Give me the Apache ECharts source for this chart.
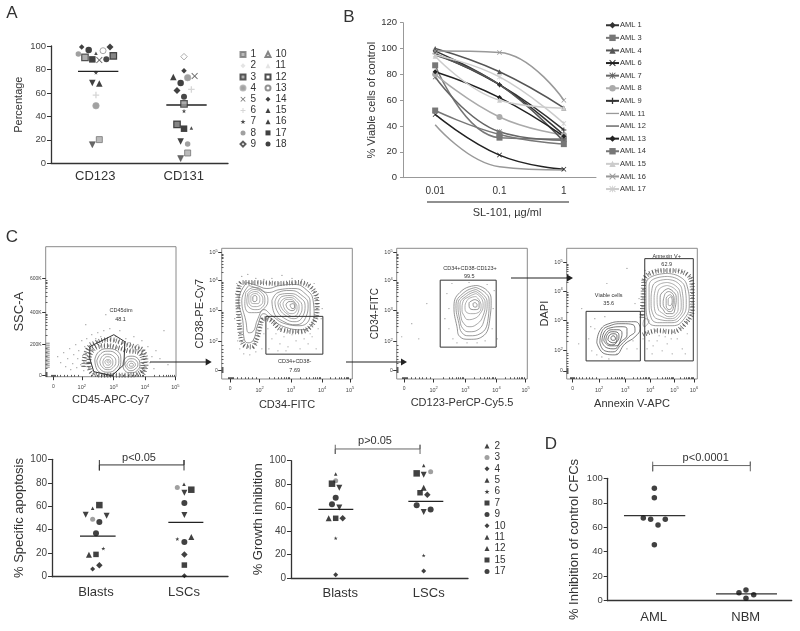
<!DOCTYPE html>
<html><head><meta charset="utf-8">
<style>html,body{margin:0;padding:0;background:#fff}#c{width:800px;height:631px}</style>
<script src="https://cdn.jsdelivr.net/npm/echarts@6/dist/echarts.min.js"></script>
</head><body><div id="c"></div>
<script>
// ---------- Panel A data (index = sample) ----------
const samplesA=['1','2','3','4','5','6','7','8','9','10','11','12','13','14','15','16','17','18'];
const cd123X=[.546,null,.384,.508,.546,.508,.508,.309,null,.467,.508,.704,.588,.347,.467,.546,.467,.426];
const cd123Y=[20.2,null,90.3,49.1,88,58.2,77.3,93.2,null,15.9,93.8,91.5,96,99.1,68.5,68,88.6,96.6];
const cd131X=[1.544,null,1.503,1.544,1.623,1.586,1.503,1.544,1.503,1.465,1.586,1.424,null,1.503,1.465,1.382,1.503,1.465];
const cd131Y=[8.8,null,50.6,73,74.4,63,44.6,16.5,90.9,4,30,33.2,null,79,18.5,73.6,29.5,68.5];
const extraCirclesA=[[.625,88.6],[1.503,56.8]];
const extraDiamondsA=[[.667,99.1],[1.424,62]];
const meanA=[[.305,78.4],[.761,78.4]];
const meanA2=[[1.303,49.7],[1.759,49.7]];
// ---------- Panel B data ----------
const doses=['0.01','0.1','1'];
const amlNames=['AML 1','AML 3','AML 4','AML 6','AML 7','AML 8','AML 9','AML 11','AML 12','AML 13','AML 14','AML 15','AML 16','AML 17'];
const aml1=[98,72,33],aml3=[87,31,30],aml4=[100,82,54],aml6=[49,17.5,6.5],aml7=[78,35.6,29],aml8=[80,47,33],aml9=[96,72,37],
 aml11=[41,8.5,6],aml12=[95,72,28],aml13=[82,62,32],aml14=[52,33.5,26],aml15=[94,60,54],aml16=[98,97,60],aml17=[95,78,42];
const amlValues=[aml1,aml3,aml4,aml6,aml7,aml8,aml9,aml11,aml12,aml13,aml14,aml15,aml16,aml17];
// ---------- Panels apoptosis / growth (index = sample) ----------
const samplesF=['2','3','4','5','6','7','9','10','11','12','15','17'];
const apoBlastX=[.462,.462,.538,.383,.583,.538,.538,.462,.621,.42,.5,.5];
const apoBlastY=[58.2,48.9,9.7,52.8,24,61,46.6,6.5,52,18.8,19,37];
const apoLscX=[1.5,1.424,1.504,1.504,1.424,1.583,1.504,1.504,1.504,1.583,1.504,1.504];
const apoLscY=[78.7,75.9,19,71.6,32.1,74.1,62.8,.9,52.6,33.8,9.9,29.5];
const groBlastX=[.505,.505,.584,.546,.505,.463,.505,.505,.546,.426,.505,.463];
const groBlastY=[88.6,83,50.9,77,34,80.4,68.5,2.8,60.2,50.9,50.9,62.8];
const groLscX=[1.499,1.578,1.54,1.499,1.499,1.42,1.578,1.499,1.499,1.499,1.458,1.42];
const groLscY=[96,90.6,71,88,19.3,89.2,58.5,6,56.2,77,72.7,62];
const meanApo=[[.318,34.5],[.723,34.5]],meanApo2=[[1.322,46.3],[1.72,46.3]];
const meanGro=[[.309,58.5],[.704,58.5]],meanGro2=[[1.326,65.3],[1.721,65.3]];
const bracketApo=[[.538,99.4],[.538,90.5],[.538,95.2],[1.5,95.2],[1.5,99.4],[1.5,90.5]];
const bracketGro=[[.5,113.6],[.5,105.7],[.5,110],[1.458,110],[1.458,113.6],[1.458,105.7]];
// ---------- Panel D data ----------
const cfcAml=[[.507,91.8],[.507,84.2],[.387,67.6],[.467,66.5],[.626,66.5],[.547,61.9],[.507,45.8]];
const cfcNbm=[[1.503,8.7],[1.427,6.5],[1.587,4.9],[1.503,1.9]];
const meanCfc=[[.177,69.5],[.843,69.5]],meanCfc2=[[1.177,5.5],[1.84,5.5]];
const bracketCfc=[[.489,113.6],[.489,105.7],[.489,110.4],[1.55,110.4],[1.55,113.6],[1.55,105.7]];
// ---------- Panel C: gates, contours, dots on a 0-130 channel scale ----------
const flow1Gate=[[44,30],[68,42],[79,35],[78,12],[66,1],[48,5],[44,18],[44,30]];
const flow1Rings=[
[[49,17],[53,25],[62,28],[71,26],[75,17],[73,8],[63,2.5],[52,6]],
[[51,16],[55,23],[62,25.5],[70,23],[73,16],[70,8],[62,4.5],[54,8]],
[[54,15],[57,21],[62,22.5],[68,20],[70,15],[67,9],[62,7],[56,10]],
[[57,15],[59,19],[62,20],[66,18],[67,14],[65,10],[61,9],[58,11]],
[[59,15],[61,17],[63,17],[65,15],[64,12],[62,11.5],[60,12.5]],
[[61,15],[62,16],[63.5,15],[62.5,13.5]],
[[77,12],[79,18],[85,20.5],[91,19],[94,12],[91,6],[85,4],[79,6]],
[[79,12],[81,16],[85,18],[90,16.5],[92,12],[89,7.5],[85,6],[81,8]],
[[81,12],[83,15],[85,15.5],[88,14.5],[89.5,12],[87,9],[85,8.5],[82,9.5]],
[[83.5,12],[85,13.5],[87,13],[87.5,11.5],[86,10.5],[84,10.5]]];
const flow1Halo=[[[43,14],[45,24],[52,30],[62,31],[72,29],[82,26],[93,24],[97,15],[94,4],[80,1.5],[60,1.5],[46,4],[43,14]],
 [[38,10],[41,26],[50,34],[64,37],[76,34],[88,30],[97,26],[100,12],[97,3]]];
const flow1Stripe=[[2,34],[2,9]];
const flow1Dots=[[12,20],[15,14],[18,24],[20,10],[22,18],[24,28],[25,7],[27,13],[28,22],[30,32],[31,9],[32,18],[33,26],[35,12],[36,36],[37,21],[38,6],[39,30],[40,16],[41,38],[42,24],[43,9],[44,34],[46,42],[47,3],[50,38],[52,44],[55,40],[58,46],[64,48],[70,40],[74,46],[80,38],[84,34],[88,40],[92,32],[96,36],[100,24],[102,30],[104,14],[106,20],[108,8],[110,26],[100,8],[114,18],[118,46],[122,12],[60,62],[40,52]];
const flow2Gate=[[44,62.3],[100.7,62.3],[100.7,24.7],[44,24.7],[44,62.3]];
const flow2Rings=[
[[25,96],[35,93],[45,90],[58,93],[72,94],[84,89],[91,78],[92,63],[80,49],[62,52],[48,61],[42,65],[36,54],[31,38],[26,36],[22,42],[21,58],[17,78],[25,96]],
[[27,93],[36,90],[46,86],[58,89],[72,90],[83,85],[88,76],[88,64],[78,53],[63,55],[50,63],[42,69],[36,60],[31,47],[27,46],[24,58],[20,78],[27,93]],
[[24,86],[32,91],[42,87],[46,78],[42,70],[35,66],[28,66],[23,75]],
[[26,85],[32,89],[40,86],[43,78],[40,71],[34,69],[29,70],[25,77]],
[[27,84],[33,87],[39,84],[41,78],[38,73],[33,72],[29,73],[27,78]],
[[29,83],[33,85],[37,83],[38,79],[36,75],[32,75],[29,77]],
[[31,82],[33,83],[35,81],[35,79],[33,77],[31,78]],
[[50,78],[56,86],[68,88],[80,83],[86,74],[84,62],[74,54],[62,57],[52,66]],
[[53,77],[58,84],[68,85],[78,81],[83,73],[81,63],[73,57],[63,60],[55,68]],
[[56,76],[60,82],[68,83],[76,79],[80,72],[78,64],[72,60],[64,63],[58,69]],
[[58,75],[62,80],[68,81],[74,78],[77,72],[76,66],[71,62],[65,65],[60,70]],
[[61,75],[64,79],[69,79],[73,76],[75,71],[73,66],[69,65],[65,67],[62,71]],
[[64,74],[67,77],[70,77],[73,74],[73,70],[70,68],[67,69],[65,71]],
[[68,74],[71,75],[72.5,72],[71,70],[69,71]]];
const flow2Halo=[[[16,78],[20,96],[33,96],[58,95],[75,96],[90,90],[95,72],[92,57],[78,47],[60,49],[48,59],[42,60],[35,40],[30,32],[22,34],[18,50],[16,78]]];
const flow2Dots=[[15,70],[14,85],[13,60],[16,50],[18,45],[15,95],[20,102],[26,104],[34,100],[42,99],[50,100],[60,103],[70,100],[80,99],[92,95],[96,85],[100,70],[99,60],[96,50],[88,45],[16,38],[18,30],[22,25],[28,24],[34,27],[40,30],[42,45],[46,50],[50,40],[54,45],[58,35],[62,42],[66,32],[70,44],[74,38],[78,30],[82,40],[86,35],[90,42],[94,30],[47,30],[56,28],[64,28]];
const flow3Gate=[[43.3,98.3],[99,98.3],[99,31.7],[43.3,31.7],[43.3,98.3]];
const flow3Rings=[
[[80,93],[90,88],[94,78],[93,62],[85,42],[72,39.5],[63,42],[60,52],[57,72],[65,88]],
[[79,91],[89,85],[92,77],[91,60],[83,45],[72,43],[65,46],[62,55],[59,73],[67,86]],
[[79,89],[87,83],[90,76],[88,62],[81,49],[72,47],[66,50],[63,58],[61,74],[68,84]],
[[79,87],[86,81],[88,75],[86,63],[79,54],[72,52],[67,55],[64,62],[63,74],[70,83]],
[[79,85],[85,79],[86,73],[83,65],[77,60],[71,59],[67,63],[65,69],[66,77],[72,82]],
[[79,82],[83,77],[84,72],[81,66],[75,65],[70,66],[68,71],[70,78],[74,81]],
[[78,79],[82,76],[82,71],[78,69],[73,70],[72,75],[75,78]],
[[78,76],[80,74],[79,71.5],[76.5,72],[76,75]]];
const flow3Dots=[[50,85],[52,70],[55,95],[52,50],[56,40],[60,36],[70,36],[80,36],[88,38],[95,50],[96,70],[97,88],[90,94],[72,96],[30,75],[15,55],[22,40],[5,42],[100,40],[48,60]];
const flow4GateA=[[19.3,67.3],[73.3,67.3],[73.3,18],[19.3,18],[19.3,67.3]];
const flow4GateB=[[77.7,119.7],[126,119.7],[126,18],[77.7,18],[77.7,119.7]];
const flow4Rings=[
[[30,36],[33,48],[42,55],[55,57],[68,57],[73,50],[68,42],[58,35],[48,24],[38,25]],
[[33,36],[35,47],[43,53],[55,55],[66,54],[68,48],[62,42],[54,34],[46,27],[38,28]],
[[35,37],[37,46],[44,51],[54,52],[60,50],[60,44],[54,37],[47,30],[40,31]],
[[37,38],[39,45],[45,49],[51,49],[55,46],[54,40],[49,33],[43,33]],
[[39,39],[41,45],[46,47],[51,46],[52,42],[50,37],[46,34],[41,35]],
[[41,39],[43,44],[47,45],[50,43],[50,39],[47,36],[43,37]],
[[44,41],[46,43],[48,42],[48.5,39.5],[46,38.5],[44.5,39]],
[[100,105],[112,102],[120,92],[122,75],[117,60],[105,53],[90,53],[81,58],[79,75],[79,93],[85,102]],
[[100,102],[111,99],[118,89],[119,74],[114,61],[104,56],[92,56],[84,61],[82,76],[82,92],[88,100]],
[[100,99],[110,96],[115,87],[116,73],[112,62],[103,58],[93,59],[86,64],[84,77],[85,90],[90,97]],
[[100,96],[108,93],[113,85],[114,72],[110,63],[103,60],[95,62],[88,67],[87,78],[88,88],[92,94]],
[[100,93],[107,90],[111,83],[111,71],[108,64],[102,62],[96,65],[91,70],[90,79],[91,87],[94,91]],
[[101,90],[106,87],[109,81],[108,71],[105,65],[100,65],[96,69],[93,74],[93,81],[96,87]],
[[102,87],[106,84],[107,78],[106,70],[103,67],[99,69],[96,75],[97,82],[99,86]],
[[103,84],[106,80],[105,72],[102,69],[99,73],[99,80]],
[[104,82],[105,78],[103,73],[101,74],[101,79]],
[[76,55],[78,60],[82,58],[80,54],[77,52]]];
const flow4Halo=[[[76,44],[90,48],[105,47],[118,55],[125,70],[125,90],[120,104],[100,108],[85,106],[77,98],[76,80],[75,60]]];
const flow4Dots=[[22,40],[25,28],[28,50],[30,24],[24,52],[35,22],[42,20],[50,25],[60,30],[66,38],[70,30],[28,60],[38,62],[76,40],[74,70],[72,80],[80,30],[85,25],[90,38],[95,28],[100,35],[105,25],[110,40],[115,30],[120,45],[118,25],[82,38],[86,33],[92,43],[98,42],[104,40],[110,48],[122,60],[125,80],[124,100],[112,108],[90,108],[76,88],[75,98],[78,108],[68,75],[15,70],[12,35],[40,95],[60,110]];
// flow tick labels and their channel positions
const logLabels=['0','10^2','10^3','10^4','10^5'];
const flow1XPos=[7.7,36,67.7,99,129.3], flow1YPos=[1,32,64.3,98.3], flow1YLabels=['0','200K','400K','600K'];
const flow2XPos=[8.3,37.7,69,100,127.7], flowYPos=[8.3,37.3,68,98,125.7];
const flow3XPos=[7.3,36.7,68.3,99.3,128.3];
const flow4XPos=[6,32.3,58.3,83.3,107.3,126.7], flow4YPos=[8,28.3,58,87.3,115.7], flow4XLabels=['0','10^2','10^3','10^4','10^5','10^6'];

const FONT='"Liberation Sans",Arial,sans-serif';
const X='path://M1 0L5 4L9 0L10 1L6 5L10 9L9 10L5 6L1 10L0 9L4 5L0 1Z';
const PLUS='path://M4 0H6V4H10V6H6V10H4V6H0V4H4Z';
const STAR='path://M5 0L6.2 3.6L10 3.6L7 6L8.1 9.6L5 7.4L1.9 9.6L3 6L0 3.6L3.8 3.6Z';
const AST='path://M1 0L5 4L9 0L10 1L6 5L10 9L9 10L5 6L1 10L0 9L4 5L0 1Z M4.4 0H5.6V10H4.4Z';
const DASH='path://M0 0H10V1H0Z';
const RING_SHADES=['#666','#707070','#7a7a7a','#808080','#888','#8e8e8e'];
const RING_DARK=['#444','#444','#3a3a3a','#3a3a3a','#333','#333','#333'];

const grids=[],xAxes=[],yAxes=[],series=[];
function addGrid(l,t,w,h,extra){grids.push(Object.assign({left:l,top:t,width:w,height:h,containLabel:false},extra||{}));return grids.length-1;}

function statPanel(g,cats,maxX,yName,nameGap,opts){
  opts=opts||{};
  xAxes.push({gridIndex:g,type:'category',data:cats,boundaryGap:true,
    axisLine:{lineStyle:{color:'#333',width:1.3}},axisTick:{alignWithLabel:true,length:opts.tick===undefined?4:opts.tick,lineStyle:{color:'#333'}},
    axisLabel:{fontFamily:FONT,fontSize:13,color:'#333',margin:opts.margin||9,padding:opts.lblPad||0,interval:0},splitLine:{show:false}});
  xAxes.push({gridIndex:g,type:'value',min:0,max:maxX,show:false,splitLine:{show:false}});
  const valX=xAxes.length-1;
  yAxes.push({gridIndex:g,type:'value',min:0,max:100,interval:20,name:yName,nameLocation:'middle',nameGap:nameGap,
    nameTextStyle:{fontFamily:FONT,fontSize:opts.nameSize||13,color:'#333'},
    axisLine:{show:true,lineStyle:{color:'#333',width:1.3}},axisTick:{show:true,length:4,lineStyle:{color:'#333'}},
    axisLabel:{fontFamily:FONT,fontSize:opts.tickSize||10,color:'#444',margin:5},splitLine:{show:false}});
  return {x:valX,y:yAxes.length-1};
}
function lineS(ax,data,color,width,z){series.push({type:'line',xAxisIndex:ax.x,yAxisIndex:ax.y,data:data,showSymbol:false,symbol:'none',clip:false,silent:true,
  lineStyle:{color:color,width:width},z:z||3,animation:false});}

// ---- Panel A ----
const gA=addGrid(51,46,177,117.3);
const axA=statPanel(gA,['CD123','CD131'],2,'Percentage',27,{nameSize:11,tickSize:9.5,margin:7});
const markersA=[
 {s:'rect',z:6,c:'#aaa',b:'#777',w:1},{s:'diamond',z:6,c:'#ddd'},{s:'rect',z:6.5,c:'#999',b:'#333',w:1.2},{s:'circle',z:6.5,c:'#8a8a8a',b:'#aaa',w:.8},
 {s:X,z:6.5,c:'#444'},{s:PLUS,z:6.5,c:'#ccc'},{s:STAR,z:4.5,c:'#222'},{s:'circle',z:5.5,c:'#888'},
 {s:'diamond',z:6.5,c:'#fff',b:'#999',w:1,lb:'#333'},{s:'triangle',r:180,z:6,c:'#444',b:'#333',w:.5,lc:'#fff',lb:'#666'},{s:'triangle',z:3.5,c:'#222',lc:'#ddd'},
 {s:'rect',z:6.5,c:'#666',b:'#222',w:1.2,lc:'#fff'},{s:'circle',z:6,c:'#fff',b:'#777',w:.8},{s:'diamond',z:5.5,c:'#111'},
 {s:'triangle',r:180,z:6.5,c:'#111'},{s:'triangle',z:6.5,c:'#111'},{s:'rect',z:6.5,c:'#111'},{s:'circle',z:6.5,c:'#111'}];
samplesA.forEach((n,i)=>{const m=markersA[i],d=[];
  if(cd123X[i]!==null)d.push([cd123X[i],cd123Y[i]]);
  if(cd131X[i]!==null)d.push([cd131X[i],cd131Y[i]]);
  series.push({type:'scatter',name:'A'+n,xAxisIndex:axA.x,yAxisIndex:axA.y,data:d,symbol:m.s,symbolRotate:m.r||0,symbolSize:m.z,symbolKeepAspect:true,silent:true,
    itemStyle:{color:m.c,borderColor:m.b||m.c,borderWidth:m.w||0},z:4});
});
series.push({type:'scatter',xAxisIndex:axA.x,yAxisIndex:axA.y,data:extraCirclesA,symbol:'circle',symbolSize:6,itemStyle:{color:'#1a1a1a'},silent:true,z:4});
series.push({type:'scatter',xAxisIndex:axA.x,yAxisIndex:axA.y,data:extraDiamondsA,symbol:'diamond',symbolSize:7,itemStyle:{color:'#111'},silent:true,z:4});
lineS(axA,meanA,'#222',1.3);lineS(axA,meanA2,'#222',1.3);

// ---- Panel B ----
const gB=addGrid(403,22.7,193,155);
xAxes.push({gridIndex:gB,type:'category',data:doses,boundaryGap:true,axisLine:{lineStyle:{color:'#999'}},axisTick:{length:3,lineStyle:{color:'#999'}},
  axisLabel:{fontFamily:FONT,fontSize:10,color:'#333',margin:9}});
yAxes.push({gridIndex:gB,type:'value',min:0,max:120,interval:20,name:'% Viable cells of control',nameLocation:'middle',nameGap:26,
  nameTextStyle:{fontFamily:FONT,fontSize:11,color:'#333'},axisLine:{show:true,lineStyle:{color:'#999'}},axisTick:{show:true,length:3,lineStyle:{color:'#999'}},
  axisLabel:{fontFamily:FONT,fontSize:9.5,color:'#333',margin:6},splitLine:{show:false}});
const bx=xAxes.length-1,by=yAxes.length-1;
const amlStyles=[['#333','diamond'],['#777','rect'],['#555','triangle'],['#222',X],['#666',AST],['#aaa','circle'],['#333',PLUS],['#999','none'],['#555','none'],['#222','diamond'],['#777','rect'],['#ccc','triangle'],['#999',X],['#ccc',AST]];
amlNames.forEach((n,i)=>series.push({type:'line',name:n,xAxisIndex:bx,yAxisIndex:by,data:amlValues[i],smooth:.45,symbol:amlStyles[i][1],symbolSize:i==5||i==1||i==10?6:5,showSymbol:true,silent:true,
  lineStyle:{color:amlStyles[i][0],width:1.5},itemStyle:{color:amlStyles[i][0]},z:3}));

// ---- Panel C ----
function logLabel(v){ if(v.indexOf('^')<0) return v; const p=v.split('^'); return '{b|'+p[0]+'}{s|'+p[1]+'}'; }
const minorLogs=[.3,.48,.6,.7,.78,.85,.9,.95];
function minors(pos,decadeIdx){const out=[];for(let i=decadeIdx;i<pos.length-1;i++){const a=pos[i],b=pos[i+1];minorLogs.forEach(l=>out.push(a+(b-a)*l));}
  const o=pos[0];out.push(o-2,o-1,o,o+1,o+2);for(let k=1;k<=7;k++)out.push(o+(pos[decadeIdx]-o)*k/8);return out.filter(v=>v>=0&&v<=130);}
function flowAxis(kind,g,pos,labels,name,gap,minorList,nameSize){
  const lab={show:true,customValues:pos,margin:kind==='x'?7:4,fontFamily:FONT,fontSize:5,color:'#444',
    formatter:v=>{const i=pos.indexOf(v);return i<0?'':logLabel(labels[i]);},
    rich:{b:{fontSize:5.5,fontFamily:FONT,color:'#444'},s:{fontSize:4,fontFamily:FONT,color:'#444',padding:[0,0,4,0]}}};
  const base={gridIndex:g,type:'value',min:0,max:130,splitLine:{show:false}};
  const major=Object.assign({},base,{name:name,nameLocation:'middle',nameGap:gap,nameTextStyle:{fontFamily:FONT,fontSize:nameSize||11,color:'#333'},
    axisLine:{show:false},axisTick:{show:true,customValues:pos,length:3.5,lineStyle:{color:'#333',width:1}},axisLabel:lab});
  const minor=Object.assign({},base,{axisLine:{show:false},axisTick:{show:true,customValues:minorList,length:1.8,lineStyle:{color:'#333',width:.8}},axisLabel:{show:false}});
  const arr=kind==='x'?xAxes:yAxes;arr.push(major);const idx=arr.length-1;arr.push(minor);return idx;
}
function flowPlot(l,t,w,h,xp,xl,yp,yl,xName,yName,xGap,yGap,halo,haloW,rings,gates,dots,ySize,darkRings){
  const g=addGrid(l,t,w,h,{show:true,borderColor:'#8a8a8a',borderWidth:1});
  const ax={x:flowAxis('x',g,xp,xl,xName,xGap,minors(xp,1)),y:flowAxis('y',g,yp,yl,yName,yGap,minors(yp,1),ySize)};
  series.push({type:'scatter',xAxisIndex:ax.x,yAxisIndex:ax.y,data:dots,symbolSize:1.2,itemStyle:{color:'#777'},silent:true,z:2});
  (halo||[]).forEach(r=>{
    series.push({type:'line',xAxisIndex:ax.x,yAxisIndex:ax.y,data:r,showSymbol:false,symbol:'none',smooth:.4,silent:true,
      lineStyle:{color:'#333',width:haloW,type:[.8,2.1],opacity:.8},z:2});
    series.push({type:'line',xAxisIndex:ax.x,yAxisIndex:ax.y,data:r,showSymbol:false,symbol:'none',smooth:.4,silent:true,
      lineStyle:{color:'#555',width:haloW*.5,type:[1,3.3],opacity:.7},z:2});
  });
  rings.forEach((r,i)=>{const c=r.concat([r[0]]);series.push({type:'line',xAxisIndex:ax.x,yAxisIndex:ax.y,data:c,showSymbol:false,symbol:'none',smooth:.5,silent:true,
    lineStyle:{color:(darkRings&&i<darkRings.length)?darkRings[i]:RING_SHADES[i%RING_SHADES.length],width:.7},z:3});});
  gates.forEach(p=>series.push({type:'line',xAxisIndex:ax.x,yAxisIndex:ax.y,data:p,showSymbol:false,symbol:'none',silent:true,lineStyle:{color:'#333',width:1},z:4}));
  return ax;
}
const ax1=flowPlot(45.7,246.7,130.3,130,flow1XPos,logLabels,flow1YPos,flow1YLabels,'CD45-APC-Cy7','SSC-A',18,20,flow1Halo,5,flow1Rings,[flow1Gate],flow1Dots,13);
series.push({type:'line',xAxisIndex:ax1.x,yAxisIndex:ax1.y,data:flow1Stripe,showSymbol:false,symbol:'none',silent:true,lineStyle:{color:'#888',width:4,type:[1,1]},z:2});
flowPlot(221.7,248.3,130.6,130.7,flow2XPos,logLabels,flowYPos,logLabels,'CD34-FITC','CD38-PE-Cy7',20,15,flow2Halo,5,flow2Rings,[flow2Gate],flow2Dots);
flowPlot(396.7,248.3,130.6,130.7,flow3XPos,logLabels,flowYPos,logLabels,'CD123-PerCP-Cy5.5','CD34-FITC',18,15,[],0,flow3Rings,[flow3Gate],flow3Dots,10);
flowPlot(566.7,248.3,130.6,130.7,flow4XPos,flow4XLabels,flow4YPos,logLabels,'Annexin V-APC','DAPI',19,15,flow4Halo,5,flow4Rings,[flow4GateA,flow4GateB],flow4Dots,11,RING_DARK);

// ---- lower panels ----
const markersF=[{s:'triangle',z:3.5},{s:'circle',z:5,c:'#888'},{s:'diamond',z:6.5},{s:'triangle',r:180,z:6},{s:STAR,z:4},{s:'rect',z:6.5},{s:'circle',z:6},{s:'diamond',z:5},{s:'triangle',r:180,z:6},{s:'triangle',z:6},{s:'rect',z:5.5},{s:'circle',z:6}];
function plotSamples(ax,prefix,xa,ya,xb,yb){samplesF.forEach((n,i)=>{const m=markersF[i];
  series.push({type:'scatter',name:prefix+n,xAxisIndex:ax.x,yAxisIndex:ax.y,data:[[xa[i],ya[i]],[xb[i],yb[i]]],symbol:m.s,symbolRotate:m.r||0,symbolSize:m.z,symbolKeepAspect:true,silent:true,itemStyle:{color:m.c||'#111'},z:4});});}
const gE=addGrid(52,459.3,176,117.4);
const axE=statPanel(gE,['Blasts','LSCs'],2,'% Specific apoptosis',26);
plotSamples(axE,'E',apoBlastX,apoBlastY,apoLscX,apoLscY);
lineS(axE,meanApo,'#222',1.2);lineS(axE,meanApo2,'#222',1.2);lineS(axE,bracketApo,'#333',1);
const gF=addGrid(291,460.7,177,117.3);
const axF=statPanel(gF,['Blasts','LSCs'],2,'% Growth inhibition',25,{tick:0,lblPad:[0,0,0,10]});
plotSamples(axF,'F',groBlastX,groBlastY,groLscX,groLscY);
lineS(axF,meanGro,'#222',1.2);lineS(axF,meanGro2,'#222',1.2);lineS(axF,bracketGro,'#666',1);
const gG=addGrid(607.7,478.3,184,122.4);
const axG=statPanel(gG,['AML','NBM'],2,'% Inhibition of control CFCs',27,{tickSize:9.5,margin:10});
series.push({type:'scatter',xAxisIndex:axG.x,yAxisIndex:axG.y,data:cfcAml.concat(cfcNbm),symbolSize:5.5,itemStyle:{color:'#111'},silent:true,z:4});
lineS(axG,meanCfc,'#333',1.3);lineS(axG,meanCfc2,'#333',1.3);lineS(axG,bracketCfc,'#666',1);

function legendFor(names,labels,left,top,gap,iw,ih,fs,extra,textPad,icons){
  return {orient:'vertical',left:left,top:top,itemWidth:iw,itemHeight:ih,itemGap:gap,padding:0,selectedMode:false,
    data:names.map((n,i)=>{const e={name:n};if(extra&&extra[i])e.itemStyle=extra[i];if(icons&&icons[i])e.icon=icons[i];return e;}),
    formatter:n=>labels[names.indexOf(n)],
    textStyle:{fontFamily:FONT,fontSize:fs,color:'#333',lineHeight:fs+1,padding:textPad||0}};
}
const legA=samplesA.map(n=>'A'+n);
const legAstyle=markersA.map(m=>(m.lc||m.lb)?{color:m.lc||m.c,borderColor:m.lb||m.b||m.lc||m.c}:null);
const legends=[
 legendFor(legA.slice(0,9),samplesA.slice(0,9),239.5,49,0.2,5,5,10,legAstyle.slice(0,9)),
 legendFor(legA.slice(9),samplesA.slice(9),264.5,49,0.2,5,5,10,legAstyle.slice(9)),
 legendFor(amlNames,amlNames,605,21,4.1,13,8,7.5,null,[0,0,0,-4],amlStyles.map(a=>a[1]==='none'?DASH:null)),
 legendFor(samplesF.map(n=>'F'+n),samplesF,484.5,440.5,.4,5,5,10)
];

function T(text,x,y,size,opts){opts=opts||{};return {type:'text',x:x,y:y,z:20,silent:true,style:{text:text,font:size+'px '+FONT,fill:opts.fill||'#333',textAlign:'center',textVerticalAlign:'middle'}};}
function arrow(x1,x2,y){return [{type:'line',z:20,silent:true,shape:{x1:x1,y1:y,x2:x2-4,y2:y},style:{stroke:'#222',lineWidth:1.2}},
  {type:'polygon',z:20,silent:true,shape:{points:[[x2-6,y-3.5],[x2,y],[x2-6,y+3.5]]},style:{fill:'#222'}}];}
const graphics=[
 T('A',12,13,17),T('B',349,17,17),T('C',12,237,17),T('D',551,444,17),
 T('SL-101, µg/ml',507,213,11),
 {type:'line',z:20,silent:true,shape:{x1:427,y1:202,x2:569,y2:202},style:{stroke:'#222',lineWidth:1.2}},
 T('CD45dim',121,310.5,5.5),T('48.1',120.5,319,5.5),
 T('CD34+CD38-',294.7,361.7,5.5),T('7.69',294.7,370,5.5),
 T('CD34+CD38-CD123+',470,268.3,5.5),T('99.5',469.3,276.7,5.5),
 T('Annexin V+',666.7,256,5.5),T('62.9',666.7,264.3,5.5),
 T('Viable cells',608.7,295.3,5.5),T('35.6',608.7,303.7,5.5),
 T('p<0.05',139,457.7,11),T('p>0.05',375,441,11),T('p<0.0001',705.7,457.7,11),
 ...arrow(150,211.7,362),...arrow(346,407,362),...arrow(511,573,278)
];
const chart=echarts.init(document.getElementById('c'),null,{renderer:'canvas'});
chart.setOption({animation:false,backgroundColor:'#fff',grid:grids,xAxis:xAxes,yAxis:yAxes,series:series,legend:legends,graphic:graphics,tooltip:{show:false}});
</script></body></html>
